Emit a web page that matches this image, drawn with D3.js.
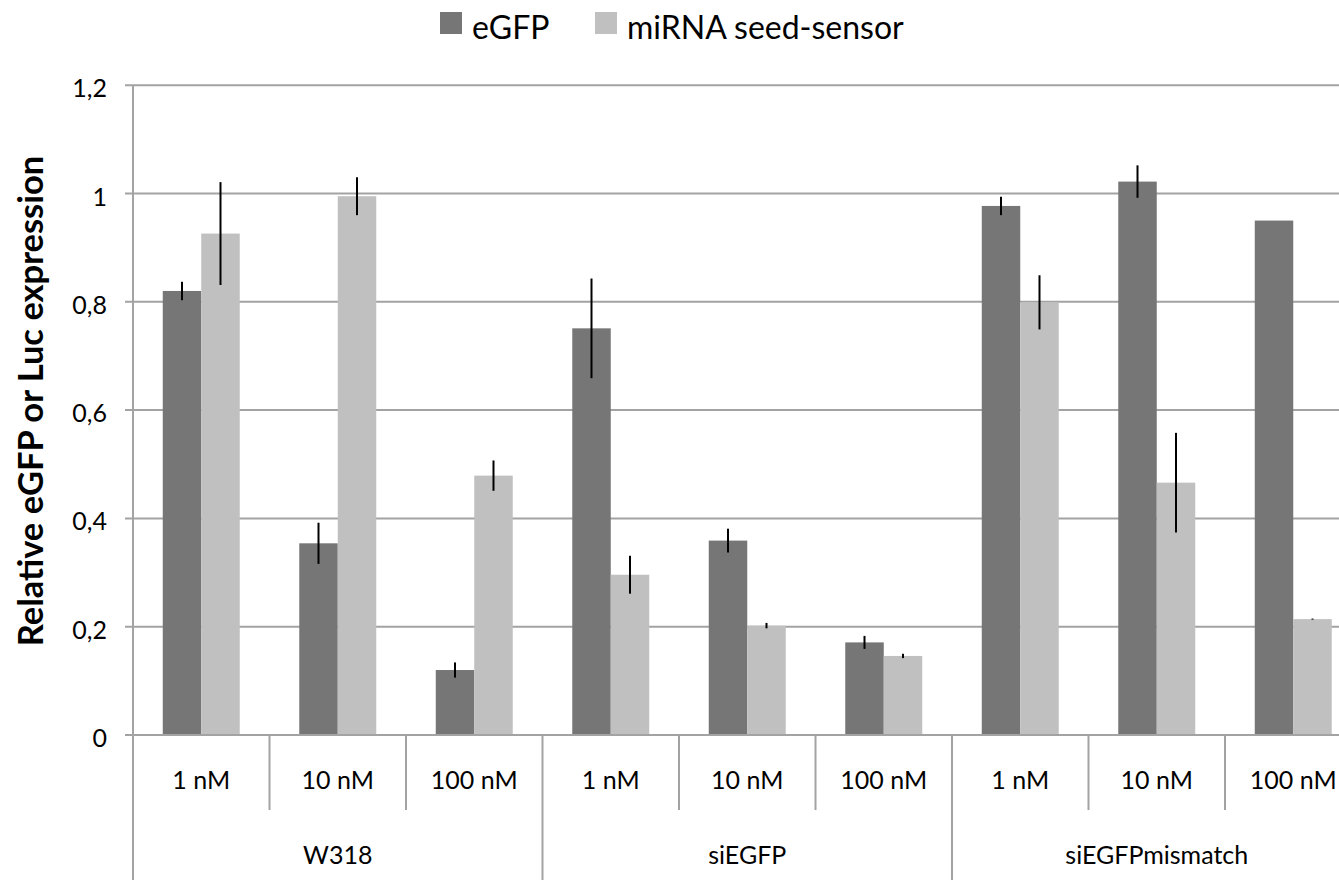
<!DOCTYPE html>
<html>
<head>
<meta charset="utf-8">
<script src="https://cdn.jsdelivr.net/npm/d3@7"></script>
<style>
  html, body { margin: 0; padding: 0; background: #fff; overflow: hidden; }
  svg { display: block; font-family: Lato, "Open Sans", sans-serif; }
</style>
</head>
<body>
<svg id="chart" width="1339" height="880"></svg>
<script>
// ---- data ----
const groups = ["W318", "siEGFP", "siEGFPmismatch"];
const concentrations = ["1 nM", "10 nM", "100 nM"];
const seriesNames = ["eGFP", "miRNA seed-sensor"];
const egfp     = [0.820, 0.354, 0.120, 0.751, 0.359, 0.171, 0.977, 1.022, 0.950];
const egfpErr  = [0.017, 0.038, 0.014, 0.092, 0.022, 0.012, 0.017, 0.030, 0.000];
const mirna    = [0.926, 0.995, 0.479, 0.296, 0.202, 0.146, 0.799, 0.466, 0.214];
const mirnaErr = [0.095, 0.035, 0.028, 0.035, 0.005, 0.004, 0.050, 0.092, 0.001];
const yTicks = [0, 0.2, 0.4, 0.6, 0.8, 1.0, 1.2];

// ---- build rows ----
const cats = [];
groups.forEach((g, gi) => concentrations.forEach((c, ci) => cats.push({ g, c, gi, ci, i: gi * 3 + ci })));
const values = [egfp, mirna];
const errs = [egfpErr, mirnaErr];
const colors = ["#767676", "#c0c0c0"];

const svg = d3.select("#chart");
const x0 = 133, step = 136.5;
const x = d3.scaleBand().domain(cats.map(d => d.i)).range([x0, x0 + step * cats.length]).padding(0);
const x1 = d3.scaleBand().domain([0, 1]).range([0, x.bandwidth()]).paddingInner(0).paddingOuter(0.773);
const y = d3.scaleLinear().domain([0, 1.2]).range([735, 85.2]);
const gridColor = "#a3a3a3";

// gridlines + ticks
svg.append("g").selectAll("line").data(yTicks).join("line")
  .attr("x1", x0 - 8).attr("x2", 1339)
  .attr("y1", d => y(d)).attr("y2", d => y(d))
  .attr("stroke", gridColor).attr("stroke-width", 2);

// tick labels
const fmt = d => d3.format("~g")(d).replace(".", ",");
svg.append("g").selectAll("text").data(yTicks).join("text")
  .attr("x", 107).attr("y", d => y(d) + 12)
  .attr("text-anchor", "end").attr("font-size", 25).attr("fill", "#000")
  .text(fmt);

// bars
const barG = svg.append("g");
[0, 1].forEach(s => {
  barG.append("g").selectAll("rect").data(cats).join("rect")
    .attr("x", d => x(d.i) + x1(s))
    .attr("width", x1.bandwidth())
    .attr("y", d => y(values[s][d.i]))
    .attr("height", d => y(0) - y(values[s][d.i]))
    .attr("fill", colors[s]);
});
// error bars
[0, 1].forEach(s => {
  barG.append("g").selectAll("line").data(cats.filter(d => errs[s][d.i] > 0)).join("line")
    .attr("x1", d => x(d.i) + x1(s) + x1.bandwidth() / 2)
    .attr("x2", d => x(d.i) + x1(s) + x1.bandwidth() / 2)
    .attr("y1", d => y(values[s][d.i] + errs[s][d.i]))
    .attr("y2", d => y(values[s][d.i] - errs[s][d.i]))
    .attr("stroke", "#000").attr("stroke-width", 2);
});

// x axis line
svg.append("line").attr("x1", x0 - 8).attr("x2", 1339).attr("y1", y(0)).attr("y2", y(0))
  .attr("stroke", gridColor).attr("stroke-width", 2);
// y axis line
svg.append("line").attr("x1", x0).attr("x2", x0).attr("y1", y(1.2)).attr("y2", 880)
  .attr("stroke", gridColor).attr("stroke-width", 2);

// category separators
const boundaries = d3.range(1, cats.length + 1);
svg.append("g").selectAll("line").data(boundaries).join("line")
  .attr("x1", b => x0 + b * x.step()).attr("x2", b => x0 + b * x.step())
  .attr("y1", y(0))
  .attr("y2", b => (b % 3 === 0) ? 880 : 810)
  .attr("stroke", gridColor).attr("stroke-width", 2);

// concentration labels
svg.append("g").selectAll("text").data(cats).join("text")
  .attr("x", d => x(d.i) + x.bandwidth() / 2).attr("y", 789)
  .attr("text-anchor", "middle").attr("font-size", 25).attr("fill", "#000")
  .text(d => d.c);
// group labels
svg.append("g").selectAll("text").data(groups).join("text")
  .attr("x", (g, gi) => x(gi * 3) + x.step() * 1.5).attr("y", 864)
  .attr("text-anchor", "middle").attr("font-size", 25).attr("fill", "#000")
  .text(g => g);

// y title
svg.append("text")
  .attr("transform", "translate(43,401) rotate(-90)")
  .attr("text-anchor", "middle").attr("font-size", 34.5).attr("font-weight", "bold")
  .attr("fill", "#000")
  .text("Relative eGFP or Luc expression");

// legend
const legX = [440, 595];
const leg = svg.append("g");
seriesNames.forEach((n, s) => {
  leg.append("rect").attr("x", legX[s]).attr("y", 12).attr("width", 22).attr("height", 22).attr("fill", colors[s]);
  leg.append("text").attr("x", legX[s] + 32).attr("y", 39).attr("font-size", 32).attr("fill", "#000").text(n);
});
</script>
</body>
</html>
